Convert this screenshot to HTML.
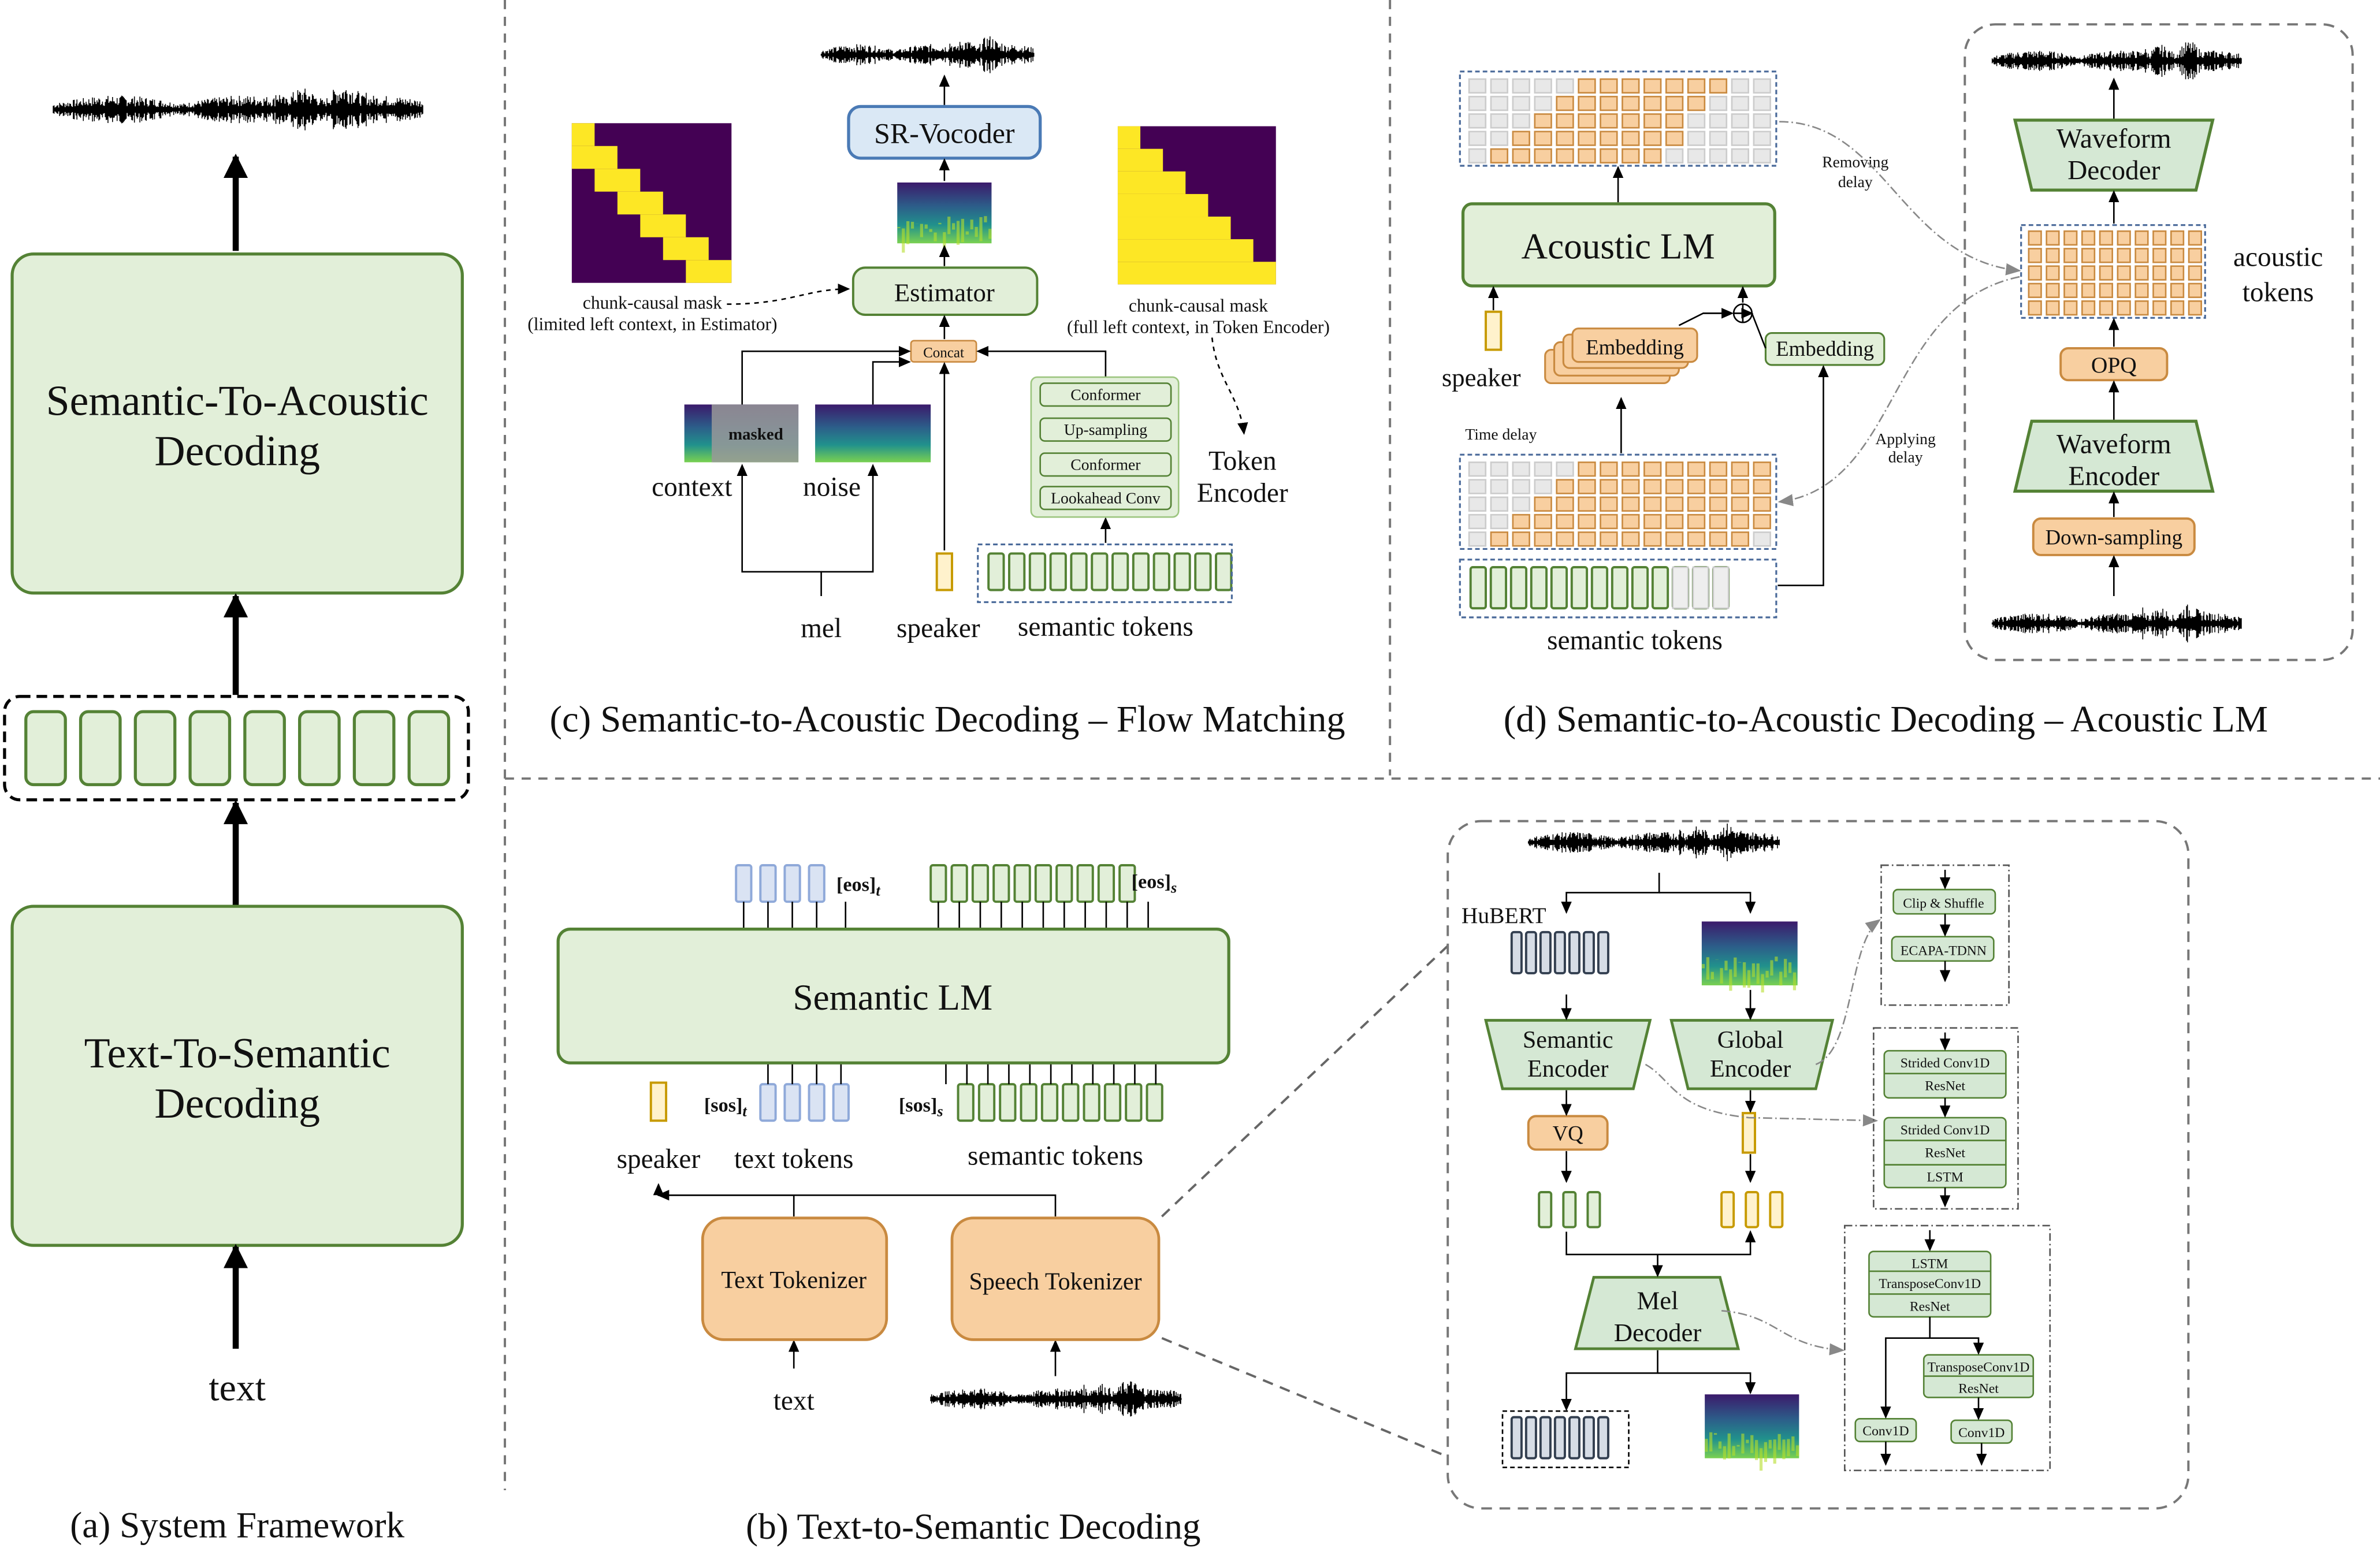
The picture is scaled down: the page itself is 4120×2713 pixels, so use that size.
<!DOCTYPE html>
<html><head><meta charset="utf-8"><style>
html,body{margin:0;padding:0;background:#fff;}
svg{display:block;}
text{font-family:"Liberation Serif",serif;fill:#111;}
</style></head><body>
<svg id="s" width="4120" height="2713" viewBox="0 0 1565 1030.5" xmlns="http://www.w3.org/2000/svg">
<defs>
<marker id="ah" markerWidth="8" markerHeight="8" refX="7" refY="4" orient="auto" markerUnits="userSpaceOnUse"><path d="M0,0.5 L8,4 L0,7.5 z" fill="#000"/></marker>
<marker id="ahb" markerWidth="16" markerHeight="16" refX="14" refY="8" orient="auto" markerUnits="userSpaceOnUse"><path d="M0,0 L16,8 L0,16 z" fill="#000"/></marker>
<marker id="ahg" markerWidth="10" markerHeight="10" refX="9" refY="5" orient="auto" markerUnits="userSpaceOnUse"><path d="M0,1 L10,5 L0,9 z" fill="#888"/></marker>
<linearGradient id="spec" x1="0" y1="0" x2="0" y2="1"><stop offset="0" stop-color="#3b1a6b"/><stop offset="0.4" stop-color="#2c5f8a"/><stop offset="0.7" stop-color="#21918c"/><stop offset="1" stop-color="#7ad151"/></linearGradient>
</defs>
<g id="dyn"></g>
<g stroke="#777" stroke-width="1.5" stroke-dasharray="6,5" fill="none">
<line x1="332" y1="0" x2="332" y2="980"/>
<line x1="914" y1="0" x2="914" y2="510"/>
<line x1="332" y1="512" x2="1565" y2="512"/>
</g>

<!-- (a) -->
<g fill="#e2efd9" stroke="#548235" stroke-width="2">
<rect x="8" y="167" width="296" height="223" rx="14"/>
<rect x="8" y="596" width="296" height="223" rx="14"/>
</g>
<rect x="3" y="458" width="305" height="68" rx="10" fill="none" stroke="#000" stroke-width="2" stroke-dasharray="7,4"/>
<g stroke="#000" stroke-width="4" marker-end="url(#ahb)">
<line x1="155" y1="165" x2="155" y2="103"/>
<line x1="155" y1="457" x2="155" y2="392"/>
<line x1="155" y1="595" x2="155" y2="528"/>
<line x1="155" y1="887" x2="155" y2="820"/>
</g>
<text x="156" y="273" font-size="28" text-anchor="middle">Semantic-To-Acoustic</text>
<text x="156" y="306" font-size="28" text-anchor="middle">Decoding</text>
<text x="156" y="702" font-size="28" text-anchor="middle">Text-To-Semantic</text>
<text x="156" y="735" font-size="28" text-anchor="middle">Decoding</text>
<text x="156" y="921" font-size="25" text-anchor="middle">text</text>
<text x="156" y="1011" font-size="24" text-anchor="middle">(a) System Framework</text>

<!-- (c) -->
<rect x="558" y="70" width="126" height="34" rx="8" fill="#dae8f5" stroke="#4a7ab5" stroke-width="2"/>
<text x="621" y="94" font-size="19" text-anchor="middle">SR-Vocoder</text>
<rect x="561" y="176" width="121" height="31" rx="8" fill="#e2efd9" stroke="#548235" stroke-width="1.5"/>
<text x="621" y="198" font-size="17" text-anchor="middle">Estimator</text>
<rect x="599" y="224" width="43" height="14" rx="2" fill="#f8cfa0" stroke="#c98a40" stroke-width="1"/>
<text x="620.5" y="235" font-size="9.5" text-anchor="middle">Concat</text>
<g stroke="#000" stroke-width="1" fill="none" marker-end="url(#ah)">
<line x1="621" y1="69" x2="621" y2="50"/>
<line x1="621" y1="119" x2="621" y2="105"/>
<line x1="621" y1="175" x2="621" y2="162"/>
<line x1="621" y1="223" x2="621" y2="208"/>
<polyline points="488,266 488,231 598,231"/>
<polyline points="574,266 574,238 598,238"/>
<polyline points="621,362 621,239"/>
<polyline points="727,248 727,231 643,231"/>
<line x1="727" y1="357" x2="727" y2="341"/>
<polyline points="540,392 540,376 488,376 488,306"/>
<polyline points="540,376 574,376 574,306"/>
</g>
<path d="M478,200 C520,200 530,190 558,190" stroke="#000" stroke-width="1" fill="none" stroke-dasharray="3,3" marker-end="url(#ah)"/>
<path d="M797,222 C800,250 815,260 818,285" stroke="#000" stroke-width="1" fill="none" stroke-dasharray="3,3" marker-end="url(#ah)"/>
<text x="429" y="203" font-size="12" text-anchor="middle">chunk-causal mask</text>
<text x="429" y="217" font-size="12" text-anchor="middle">(limited left context, in Estimator)</text>
<text x="788" y="205" font-size="12" text-anchor="middle">chunk-causal mask</text>
<text x="788" y="219" font-size="12" text-anchor="middle">(full left context, in Token Encoder)</text>
<rect x="678" y="248" width="97" height="92" rx="4" fill="#e2efd9" stroke="#9cc57f" stroke-width="1"/>
<g fill="#e2efd9" stroke="#548235" stroke-width="1">
<rect x="684" y="252" width="86" height="15" rx="3"/>
<rect x="684" y="275" width="86" height="15" rx="3"/>
<rect x="684" y="298" width="86" height="15" rx="3"/>
<rect x="684" y="320" width="86" height="15" rx="3"/>
</g>
<g font-size="10.5" text-anchor="middle">
<text x="727" y="263">Conformer</text><text x="727" y="286">Up-sampling</text>
<text x="727" y="309">Conformer</text><text x="727" y="331">Lookahead Conv</text>
</g>
<text x="817" y="309" font-size="18" text-anchor="middle">Token</text>
<text x="817" y="330" font-size="18" text-anchor="middle">Encoder</text>
<rect x="643" y="358" width="167" height="38" fill="none" stroke="#4a6a9a" stroke-width="1.2" stroke-dasharray="3,2"/>
<rect x="616" y="364" width="10" height="24" fill="#fff2cc" stroke="#c79a00" stroke-width="1.5"/>
<text x="455" y="326" font-size="18" text-anchor="middle">context</text>
<text x="547" y="326" font-size="18" text-anchor="middle">noise</text>
<text x="540" y="419" font-size="18" text-anchor="middle">mel</text>
<text x="617" y="419" font-size="18" text-anchor="middle">speaker</text>
<text x="727" y="418" font-size="18" text-anchor="middle">semantic tokens</text>
<text x="623" y="481" font-size="24.5" text-anchor="middle">(c) Semantic-to-Acoustic Decoding – Flow Matching</text>

<!-- (d) -->
<rect x="960" y="47" width="208" height="62" fill="none" stroke="#4a6a9a" stroke-width="1.2" stroke-dasharray="3,2"/>
<rect x="962" y="134" width="205" height="54" rx="6" fill="#e2efd9" stroke="#548235" stroke-width="2"/>
<text x="1064" y="170" font-size="24" text-anchor="middle">Acoustic LM</text>
<rect x="977" y="205" width="10" height="25" fill="#fff2cc" stroke="#c79a00" stroke-width="1.5"/>
<text x="974" y="254" font-size="17" text-anchor="middle">speaker</text>
<g fill="#f8cfa0" stroke="#c98a40" stroke-width="1.2">
<rect x="1016" y="230" width="82" height="22" rx="4"/>
<rect x="1022" y="225" width="82" height="22" rx="4"/>
<rect x="1028" y="220" width="82" height="22" rx="4"/>
<rect x="1034" y="216" width="82" height="22" rx="4"/>
</g>
<text x="1075" y="233" font-size="14" text-anchor="middle">Embedding</text>
<rect x="1161" y="219" width="78" height="21" rx="4" fill="#e2efd9" stroke="#548235" stroke-width="1.2"/>
<text x="1200" y="234" font-size="14" text-anchor="middle">Embedding</text>
<circle cx="1146" cy="206" r="6" fill="#fff" stroke="#000" stroke-width="1"/>
<path d="M1140,206 h12 M1146,200 v12" stroke="#000" stroke-width="1"/>
<g stroke="#000" stroke-width="1" fill="none" marker-end="url(#ah)">
<line x1="1064" y1="133" x2="1064" y2="110"/>
<line x1="982" y1="204" x2="982" y2="189"/>
<polyline points="1066,298 1066,262"/>
<polyline points="1104,214 1120,206 1139,206"/>
<polyline points="1161,229 1152,206 1152,206"/>
<line x1="1146" y1="199" x2="1146" y2="189"/>
<polyline points="1169,385 1199,385 1199,241"/>
</g>
<rect x="960" y="299" width="208" height="62" fill="none" stroke="#4a6a9a" stroke-width="1.2" stroke-dasharray="3,2"/>
<rect x="960" y="368" width="208" height="38" fill="none" stroke="#4a6a9a" stroke-width="1.2" stroke-dasharray="3,2"/>
<text x="987" y="289" font-size="10.5" text-anchor="middle">Time delay</text>
<text x="1075" y="427" font-size="18" text-anchor="middle">semantic tokens</text>
<text x="1220" y="110" font-size="10.5" text-anchor="middle">Removing</text>
<text x="1220" y="123" font-size="10.5" text-anchor="middle">delay</text>
<text x="1253" y="292" font-size="10.5" text-anchor="middle">Applying</text>
<text x="1253" y="304" font-size="10.5" text-anchor="middle">delay</text>
<path d="M1170,80 C1240,80 1250,170 1328,178" stroke="#888" stroke-width="1" fill="none" stroke-dasharray="6,2,1,2" marker-end="url(#ahg)"/>
<path d="M1328,182 C1240,200 1250,320 1170,330" stroke="#888" stroke-width="1" fill="none" stroke-dasharray="6,2,1,2" marker-end="url(#ahg)"/>
<rect x="1292" y="16" width="255" height="418" rx="20" fill="none" stroke="#777" stroke-width="1.5" stroke-dasharray="7,5"/>
<g fill="#d5e8d4" stroke="#548235" stroke-width="2">
<polygon points="1325,79 1455,79 1444,125 1336,125"/>
<polygon points="1336,277 1444,277 1455,323 1325,323"/>
</g>
<text x="1390" y="97" font-size="18" text-anchor="middle">Waveform</text>
<text x="1390" y="118" font-size="18" text-anchor="middle">Decoder</text>
<text x="1390" y="298" font-size="18" text-anchor="middle">Waveform</text>
<text x="1390" y="319" font-size="18" text-anchor="middle">Encoder</text>
<rect x="1329" y="148" width="121" height="61" fill="none" stroke="#4a6a9a" stroke-width="1.2" stroke-dasharray="3,2"/>
<rect x="1355" y="229" width="70" height="21" rx="5" fill="#f8cfa0" stroke="#c98a40" stroke-width="1.5"/>
<text x="1390" y="245" font-size="15" text-anchor="middle">OPQ</text>
<rect x="1337" y="341" width="106" height="24" rx="5" fill="#f8cfa0" stroke="#c98a40" stroke-width="1.5"/>
<text x="1390" y="358" font-size="14" text-anchor="middle">Down-sampling</text>
<text x="1498" y="175" font-size="18" text-anchor="middle">acoustic</text>
<text x="1498" y="198" font-size="18" text-anchor="middle">tokens</text>
<g stroke="#000" stroke-width="1" fill="none" marker-end="url(#ah)">
<line x1="1390" y1="78" x2="1390" y2="52"/>
<line x1="1390" y1="147" x2="1390" y2="126"/>
<line x1="1390" y1="228" x2="1390" y2="210"/>
<line x1="1390" y1="276" x2="1390" y2="251"/>
<line x1="1390" y1="340" x2="1390" y2="324"/>
<line x1="1390" y1="392" x2="1390" y2="366"/>
</g>
<text x="1240" y="481" font-size="24.5" text-anchor="middle">(d) Semantic-to-Acoustic Decoding – Acoustic LM</text>

<!-- (b) -->
<rect x="367" y="611" width="441" height="88" rx="8" fill="#e2efd9" stroke="#548235" stroke-width="2"/>
<text x="587" y="664" font-size="24" text-anchor="middle">Semantic LM</text>
<text x="550" y="586" font-size="13" font-weight="bold">[eos]<tspan font-style="italic" font-size="10" dy="3">t</tspan></text>
<text x="744" y="584" font-size="13" font-weight="bold">[eos]<tspan font-style="italic" font-size="10" dy="3">s</tspan></text>
<text x="463" y="731" font-size="13" font-weight="bold">[sos]<tspan font-style="italic" font-size="10" dy="3">t</tspan></text>
<text x="591" y="731" font-size="13" font-weight="bold">[sos]<tspan font-style="italic" font-size="10" dy="3">s</tspan></text>
<rect x="428" y="712" width="10" height="25" fill="#fff2cc" stroke="#c79a00" stroke-width="1.5"/>
<text x="433" y="768" font-size="18" text-anchor="middle">speaker</text>
<text x="522" y="768" font-size="18" text-anchor="middle">text tokens</text>
<text x="694" y="766" font-size="18" text-anchor="middle">semantic tokens</text>
<g stroke="#000" stroke-width="1" fill="none" marker-end="url(#ah)">
<polyline points="522,800 522,786 433,786 433,779"/>
<polyline points="694,800 694,786 433,786"/>
<line x1="522" y1="900" x2="522" y2="882"/>
<line x1="694" y1="905" x2="694" y2="882"/>
</g>
<rect x="462" y="801" width="121" height="80" rx="14" fill="#f8cfa0" stroke="#c98a40" stroke-width="1.8"/>
<rect x="626" y="801" width="136" height="80" rx="14" fill="#f8cfa0" stroke="#c98a40" stroke-width="1.8"/>
<text x="522" y="847" font-size="16" text-anchor="middle">Text Tokenizer</text>
<text x="694" y="848" font-size="16" text-anchor="middle">Speech Tokenizer</text>
<text x="522" y="927" font-size="18" text-anchor="middle">text</text>
<text x="640" y="1012" font-size="24" text-anchor="middle">(b) Text-to-Semantic Decoding</text>
<g stroke="#666" stroke-width="1.5" stroke-dasharray="7,5"><line x1="764" y1="800" x2="952" y2="622"/><line x1="764" y1="880" x2="952" y2="958"/></g>

<!-- speech tokenizer detail -->
<rect x="952" y="540" width="487" height="452" rx="22" fill="none" stroke="#777" stroke-width="1.5" stroke-dasharray="7,5"/>
<text x="961" y="607" font-size="15">HuBERT</text>
<g fill="#d5e8d4" stroke="#548235" stroke-width="1.8">
<polygon points="977,671 1085,671 1074,716 988,716"/>
<polygon points="1099,671 1205,671 1194,716 1110,716"/>
<polygon points="1048,840 1131,840 1143,887 1036,887"/>
</g>
<text x="1031" y="689" font-size="16" text-anchor="middle">Semantic</text>
<text x="1031" y="708" font-size="16" text-anchor="middle">Encoder</text>
<text x="1151" y="689" font-size="16" text-anchor="middle">Global</text>
<text x="1151" y="708" font-size="16" text-anchor="middle">Encoder</text>
<text x="1090" y="861" font-size="17" text-anchor="middle">Mel</text>
<text x="1090" y="882" font-size="17" text-anchor="middle">Decoder</text>
<rect x="1005" y="734" width="52" height="22" rx="5" fill="#f8cfa0" stroke="#c98a40" stroke-width="1.5"/>
<text x="1031" y="750" font-size="14" text-anchor="middle">VQ</text>
<rect x="1146" y="732" width="8" height="26" fill="#fff2cc" stroke="#c79a00" stroke-width="1.5"/>
<rect x="988" y="928" width="83" height="37" fill="none" stroke="#000" stroke-width="1" stroke-dasharray="3,2"/>
<g stroke="#000" stroke-width="1" fill="none" marker-end="url(#ah)">
<polyline points="1091,574 1091,587 1030,587 1030,600"/>
<polyline points="1091,587 1151,587 1151,600"/>
<line x1="1030" y1="654" x2="1030" y2="670"/>
<line x1="1151" y1="651" x2="1151" y2="670"/>
<line x1="1030" y1="717" x2="1030" y2="733"/>
<line x1="1151" y1="717" x2="1151" y2="731"/>
<line x1="1030" y1="757" x2="1030" y2="777"/>
<line x1="1151" y1="759" x2="1151" y2="777"/>
<polyline points="1030,810 1030,825 1151,825 1151,810"/>
<line x1="1090" y1="825" x2="1090" y2="839"/>
<polyline points="1090,888 1090,903 1030,903 1030,927"/>
<polyline points="1090,903 1151,903 1151,916"/>
</g>
<path d="M1194,700 C1220,690 1215,620 1236,605" stroke="#888" stroke-width="1" fill="none" stroke-dasharray="6,2,1,2" marker-end="url(#ahg)"/>
<path d="M1082,700 C1100,710 1100,730 1150,735 L1234,737" stroke="#888" stroke-width="1" fill="none" stroke-dasharray="6,2,1,2" marker-end="url(#ahg)"/>
<path d="M1132,862 C1170,865 1170,885 1212,888" stroke="#888" stroke-width="1" fill="none" stroke-dasharray="6,2,1,2" marker-end="url(#ahg)"/>
<g fill="none" stroke="#555" stroke-width="1" stroke-dasharray="5,2,1,2">
<rect x="1237" y="569" width="84" height="92"/>
<rect x="1232" y="676" width="95" height="119"/>
<rect x="1213" y="806" width="135" height="161"/>
</g>
<g fill="#d5e8d4" stroke="#548235" stroke-width="1">
<rect x="1245" y="585" width="67" height="16" rx="3"/>
<rect x="1244" y="616" width="67" height="16" rx="3"/>
<rect x="1239" y="691" width="80" height="31" rx="3"/>
<rect x="1239" y="735" width="80" height="46" rx="3"/>
<rect x="1229" y="823" width="80" height="43" rx="3"/>
<rect x="1265" y="891" width="72" height="28" rx="3"/>
<rect x="1220" y="933" width="40" height="15" rx="3"/>
<rect x="1283" y="934" width="40" height="15" rx="3"/>
<path d="M1239,706 h80 M1239,750 h80 M1239,766 h80 M1229,836 h80 M1229,851 h80 M1265,905 h72"/>
</g>
<g font-size="9" text-anchor="middle">
<text x="1278" y="597">Clip &amp; Shuffle</text><text x="1278" y="628">ECAPA-TDNN</text>
<text x="1279" y="702">Strided Conv1D</text><text x="1279" y="717">ResNet</text>
<text x="1279" y="746">Strided Conv1D</text><text x="1279" y="761">ResNet</text><text x="1279" y="777">LSTM</text>
<text x="1269" y="834">LSTM</text><text x="1269" y="847">TransposeConv1D</text><text x="1269" y="862">ResNet</text>
<text x="1301" y="902">TransposeConv1D</text><text x="1301" y="916">ResNet</text>
<text x="1240" y="944">Conv1D</text><text x="1303" y="945">Conv1D</text>
</g>
<g stroke="#000" stroke-width="1" fill="none" marker-end="url(#ah)">
<line x1="1279" y1="572" x2="1279" y2="584"/><line x1="1279" y1="601" x2="1279" y2="615"/><line x1="1279" y1="632" x2="1279" y2="645"/>
<line x1="1279" y1="679" x2="1279" y2="690"/><line x1="1279" y1="722" x2="1279" y2="734"/><line x1="1279" y1="781" x2="1279" y2="793"/>
<line x1="1269" y1="809" x2="1269" y2="822"/>
<polyline points="1269,866 1269,880 1240,880 1240,932"/>
<polyline points="1269,880 1301,880 1301,890"/>
<line x1="1301" y1="919" x2="1301" y2="933"/>
<line x1="1240" y1="948" x2="1240" y2="963"/><line x1="1303" y1="949" x2="1303" y2="963"/>
</g>
</svg>
<script>
(function(){
var NS="http://www.w3.org/2000/svg",g=document.getElementById('dyn');
function el(t,a){var e=document.createElementNS(NS,t);for(var k in a)e.setAttribute(k,a[k]);g.appendChild(e);return e;}
var seed=7;function rnd(){seed=(seed*9301+49297)%233280;return seed/233280;}
function wave(x0,x1,cy,amp){var d="";for(var x=x0;x<=x1;x+=0.6){var t=(x-x0)/(x1-x0);var env=0.25+0.35*Math.abs(Math.sin(t*9))+(t>0.6&&t<0.85?0.6:0)*Math.abs(Math.sin(t*30));var h=amp*env*(0.3+rnd());d+="M"+x.toFixed(1)+","+(cy-h).toFixed(1)+"V"+(cy+h).toFixed(1);}
el('path',{d:d,stroke:'#000','stroke-width':0.6});el('line',{x1:x0,y1:cy,x2:x1,y2:cy,stroke:'#000','stroke-width':1.2});}
wave(35,278,72,12);wave(540,680,36,9);wave(1310,1474,40,9);wave(1310,1474,410,9);wave(612,777,920,9);wave(1005,1170,554,9);
function spec(x,y,w,h){el('rect',{x:x,y:y,width:w,height:h,fill:'url(#spec)'});for(var i=0;i<w;i+=3){el('rect',{x:x+i,y:y+h*0.55+rnd()*h*0.3,width:2,height:h*0.4*rnd(),fill:'#b5de2b',opacity:0.6});}}
spec(590,120,62,40);spec(1119,606,63,42);spec(1121,917,62,42);
el('rect',{x:536,y:266,width:76,height:38,fill:'url(#spec)'});
el('rect',{x:450,y:266,width:75,height:38,fill:'url(#spec)'});
el('rect',{x:468,y:266,width:57,height:38,fill:'#999',opacity:0.85});
var t=el('text',{x:497,y:289,'font-size':11,'font-weight':'bold','text-anchor':'middle',fill:'#fff'});t.textContent='masked';
el('rect',{x:376,y:81,width:105,height:105,fill:'#440154'});
var n=7,s=105/n;for(var i=0;i<n;i++){el('rect',{x:376+Math.max(0,i-1)*s,y:81+i*s,width:(i==0?1:2)*s,height:s,fill:'#fde725'});}
el('rect',{x:735,y:83,width:104,height:104,fill:'#440154'});
var m=7,q=104/m;for(var i=0;i<m;i++){el('rect',{x:735,y:83+i*q,width:(i+1)*q,height:q,fill:'#fde725'});}
function bars(x,y,n,w,h,gap,fill,stroke){for(var i=0;i<n;i++)el('rect',{x:x+i*(w+gap),y:y,width:w,height:h,rx:1.5,fill:fill,stroke:stroke,'stroke-width':1.5});}
var G='#e2efd9',GS='#548235';
for(var i=0;i<8;i++)el('rect',{x:17+i*36,y:468,width:26,height:48,rx:5,fill:G,stroke:GS,'stroke-width':2});
bars(650,364,12,10,24,3.6,G,GS);
bars(484,569,4,10,24,6,'#dae3f3','#8fa9d9');bars(612,569,10,10,24,3.8,G,GS);
bars(500,713,4,10,24,6,'#dae3f3','#8fa9d9');bars(630,713,10,10,24,3.8,G,GS);
for(var i=0;i<4;i++){el('line',{x1:489+i*16,y1:593,x2:489+i*16,y2:611,stroke:'#000','stroke-width':1});el('line',{x1:505+i*16,y1:699,x2:505+i*16,y2:713,stroke:'#000','stroke-width':1});}
el('line',{x1:556,y1:593,x2:556,y2:611,stroke:'#000','stroke-width':1});
for(var i=0;i<11;i++){el('line',{x1:617+i*13.8,y1:593,x2:617+i*13.8,y2:611,stroke:'#000','stroke-width':1});el('line',{x1:622+i*13.8,y1:699,x2:622+i*13.8,y2:713,stroke:'#000','stroke-width':1});}
bars(994,613,7,6.5,27,3,'#d6dce5','#333f50');bars(994,932,7,6.5,27,3,'#d6dce5','#333f50');
bars(1012,784,3,8,23,8,G,GS);bars(1132,784,3,8,23,8,'#fff2cc','#c79a00');
bars(967,373,13,10,27,3.3,G,GS);
for(var i=10;i<13;i++)el('rect',{x:967+i*13.3,y:373,width:10,height:27,fill:'#eee',stroke:'#ccc','stroke-width':1});
function grid(x,y,cols,rows,px,f){for(var r=0;r<rows;r++)for(var cc=0;cc<cols;cc++){var o=f(r,cc);el('rect',{x:x+cc*px,y:y+r*11.5,width:px-3.5,height:9,fill:o?'#f8cfa0':'#e8e8e8',stroke:o?'#c98a40':'#ccc','stroke-width':1});}}
grid(966,52,14,5,14.4,function(r,c){return c>=5-r&&c<=11-r+(r>2?1:0);});
grid(966,304,14,5,14.4,function(r,c){return c>=5-r&&c<=13-(r>3?1:0);});
grid(1334,152,10,5,11.7,function(){return true;});
})();
</script>
</body></html>
